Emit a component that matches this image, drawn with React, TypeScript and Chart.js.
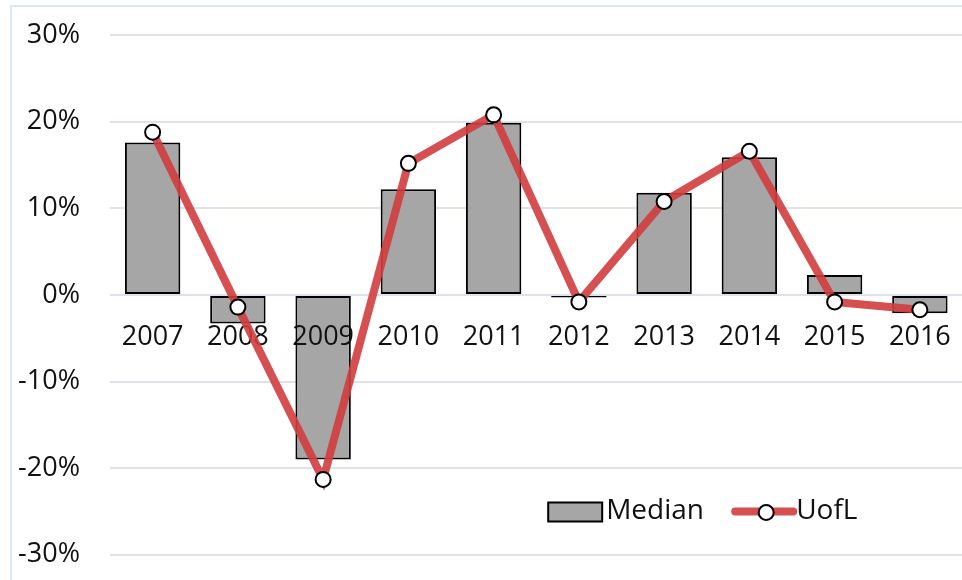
import React, { useEffect, useRef } from "react";
import { Chart, registerables } from "chart.js";

Chart.register(...registerables);

const categories = ["2007", "2008", "2009", "2010", "2011", "2012", "2013", "2014", "2015", "2016"];
const medianValues = [17.6, -3.3, -19.0, 12.2, 19.9, -0.3, 11.8, 15.9, 2.3, -2.1];
const uoflValues = [18.8, -1.4, -21.3, 15.2, 20.8, -0.8, 10.8, 16.6, -0.8, -1.7];
const yTicks = [-30, -20, -10, 0, 10, 20, 30];

const FONT = "'Open Sans', 'Noto Sans', sans-serif";
const BAR_COLOR = "#a6a6a6";
const LINE_COLOR = "rgba(210, 60, 62, 0.9)";

const labelPlugin = {
  id: "labelsBetween",
  afterDatasetDraw(chart: any, args: any) {
    if (args.index !== 1) return;
    const { ctx } = chart;
    const xs = chart.scales.x;
    const ys = chart.scales.y;
    const y0 = ys.getPixelForValue(0);
    ctx.save();
    ctx.fillStyle = "#111";
    ctx.font = `27px ${FONT}`;
    ctx.textAlign = "center";
    ctx.textBaseline = "middle";
    categories.forEach((c, i) => {
      ctx.fillText(c, xs.getPixelForValue(i), y0 + 42);
    });
    ctx.restore();
  },
};

const legendPlugin = {
  id: "customLegend",
  afterDraw(chart: any) {
    const { ctx } = chart;
    const ys = chart.scales.y;
    const xs = chart.scales.x;
    const y = ys.getPixelForValue(-25);
    const x0 = xs.getPixelForValue(4.64);
    ctx.save();
    ctx.fillStyle = BAR_COLOR;
    ctx.strokeStyle = "#000";
    ctx.lineWidth = 2;
    ctx.fillRect(x0, y - 9, 54, 19);
    ctx.strokeRect(x0, y - 9, 54, 19);
    ctx.fillStyle = "#111";
    ctx.font = `28px ${FONT}`;
    ctx.textBaseline = "middle";
    ctx.textAlign = "left";
    ctx.fillText("Median", x0 + 58, y);
    const lx = x0 + 187;
    ctx.strokeStyle = LINE_COLOR;
    ctx.lineWidth = 8;
    ctx.lineCap = "round";
    ctx.beginPath();
    ctx.moveTo(lx, y);
    ctx.lineTo(lx + 58, y);
    ctx.stroke();
    ctx.beginPath();
    ctx.arc(lx + 31, y + 1, 7.5, 0, Math.PI * 2);
    ctx.fillStyle = "#fff";
    ctx.fill();
    ctx.lineWidth = 2;
    ctx.strokeStyle = "#000";
    ctx.stroke();
    ctx.fillStyle = "#111";
    ctx.fillText("UofL", lx + 61, y);
    ctx.restore();
  },
};

export default function App() {
  const ref = useRef<HTMLCanvasElement | null>(null);

  useEffect(() => {
    document.body.style.margin = "0";
    if (!ref.current) return;
    const chart = new Chart(ref.current, {
      type: "bar",
      data: {
        labels: categories,
        datasets: [
          {
            type: "line",
            label: "UofL",
            data: uoflValues,
            borderColor: LINE_COLOR,
            borderWidth: 8,
            pointRadius: 7.5,
            pointBackgroundColor: "#fff",
            pointBorderColor: "#000",
            pointBorderWidth: 2,
            tension: 0,
            order: 0,
          } as any,
          {
            type: "bar",
            label: "Median",
            data: medianValues,
            backgroundColor: BAR_COLOR,
            borderColor: "#000",
            borderWidth: 2,
            borderSkipped: false,
            barPercentage: 0.65,
            categoryPercentage: 1,
            order: 1,
          } as any,
        ],
      },
      plugins: [labelPlugin, legendPlugin],
      options: {
        animation: false,
        responsive: false,
        layout: { padding: { left: 10, top: 23, bottom: 6, right: 0 } },
        plugins: { legend: { display: false }, tooltip: { enabled: false } },
        scales: {
          x: {
            position: { y: 0 } as any,
            grid: { display: false, drawTicks: false },
            border: { display: false },
            ticks: { display: false },
          },
          y: {
            min: -30,
            max: 30,
            afterBuildTicks: (scale: any) => {
              scale.ticks = yTicks.map((v) => ({ value: v }));
            },
            afterFit: (scale: any) => {
              scale.width = 100;
            },
            grid: { color: "#dde2ec", lineWidth: 2, drawTicks: false },
            border: { display: false },
            ticks: {
              color: "#111",
              font: { family: FONT, size: 27 },
              padding: 30,
              callback: (v: any) => `${v}%`,
            },
          },
        },
      },
    });
    return () => chart.destroy();
  }, []);

  return (
    <div style={{ position: "relative", width: 962, height: 580, overflow: "hidden", background: "#fff" }}>
      <div
        style={{
          position: "absolute",
          left: 10,
          top: 5,
          width: 1000,
          height: 620,
          border: "2px solid #dbe8f6",
          boxSizing: "border-box",
        }}
      />
      <canvas ref={ref} width={972} height={612} style={{ position: "absolute", left: 0, top: -11 }} />
    </div>
  );
}
